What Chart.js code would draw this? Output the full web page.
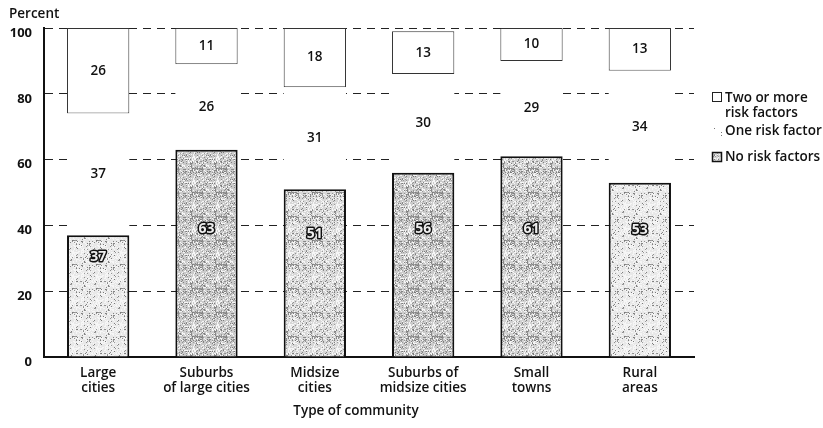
<!DOCTYPE html>
<html><head><meta charset="utf-8">
<script src="https://cdn.jsdelivr.net/npm/chart.js@4/dist/chart.umd.min.js"></script>
<style>html,body{margin:0;padding:0;background:#fff}#wrap{width:823px;height:428px;position:relative}</style>
</head><body><div id="wrap"><canvas id="c" width="823" height="428"></canvas></div>
<script>
const categories = [["Large","cities"],["Suburbs","of large cities"],["Midsize","cities"],["Suburbs of","midsize cities"],["Small","towns"],["Rural","areas"]];
const noRisk = [37, 63, 51, 56, 61, 53];
const oneRisk = [37, 26, 31, 30, 29, 34];
const twoPlus = [26, 11, 18, 13, 10, 13];
const yTicks = [0, 20, 40, 60, 80, 100];
const seriesNames = ["No risk factors", "One risk factor", "Two or more risk factors"];
const shade = [0.0, 0.9, 0.5, 0.9, 0.7, 0.0];

const FONT = "'Open Sans', 'DejaVu Sans', sans-serif";

function makePattern(level){
  const N = 24;
  const cv = document.createElement('canvas'); cv.width = N; cv.height = N;
  const g = cv.getContext('2d');
  const base = Math.round(232 - level*32);
  g.fillStyle = `rgb(${base},${base},${base})`; g.fillRect(0,0,N,N);
  for(let i=0;i<N;i++) for(let j=0;j<N;j++){
    const h = ((i*73856093) ^ (j*19349663) ^ (i*j*83492791)) >>> 0;
    const r = (h % 97) / 97;
    if(r < 0.10 + level*0.14){ const c = 120 + (h % 40); g.fillStyle = `rgb(${c},${c},${c})`; g.fillRect(i,j,1,1); }
    else if(r > 0.80 - (1-level)*0.15){ g.fillStyle = '#f6f6f6'; g.fillRect(i,j,1,1); }
  }
  return g.createPattern(cv, 'repeat');
}
const patterns = shade.map(makePattern);
const legendPattern = makePattern(0.7);

const overlay = {
  id: 'overlay',
  afterDatasetsDraw(chart){
    const ctx = chart.ctx, ys = chart.scales.y;
    ctx.save();
    ctx.textAlign = 'center'; ctx.textBaseline = 'middle';
    const m0 = chart.getDatasetMeta(0);
    m0.data.forEach((el, i) => {
      const v = noRisk[i];
      const pos = Math.min(v/2 + 12, 39);
      const y = ys.getPixelForValue(pos);
      ctx.font = `bold 14px ${FONT}`;
      ctx.lineWidth = 3; ctx.strokeStyle = '#111'; ctx.lineJoin = 'round';
      ctx.strokeText(String(v), el.x, y);
      ctx.fillStyle = '#eeeeee';
      ctx.fillText(String(v), el.x, y);
    });
    [[1, oneRisk, noRisk.map(v=>v)], [2, twoPlus, noRisk.map((v,i)=>v+oneRisk[i])]].forEach(([d, vals, base]) => {
      const meta = chart.getDatasetMeta(d);
      meta.data.forEach((el, i) => {
        const mid = base[i] + vals[i]/2;
        ctx.font = `600 13.5px ${FONT}`;
        ctx.fillStyle = '#111';
        ctx.fillText(String(vals[i]), el.x, ys.getPixelForValue(mid));
      });
    });
    ctx.restore();
  },
  afterDraw(chart){
    const ctx = chart.ctx;
    ctx.save();
    ctx.fillStyle = '#111';
    ctx.font = `600 13.5px ${FONT}`;
    ctx.textAlign = 'left'; ctx.textBaseline = 'middle';
    ctx.fillText('Percent', 9, 14);
    ctx.textAlign = 'center';
    ctx.fillText('Type of community', 356, 411);
    ctx.textAlign = 'left';
    const lx = 712;
    ctx.fillStyle = '#fff'; ctx.strokeStyle = '#222'; ctx.lineWidth = 1;
    ctx.fillRect(lx+0.5, 92.5, 9, 9); ctx.strokeRect(lx+0.5, 92.5, 9, 9);
    ctx.fillStyle = '#111';
    ctx.fillText('Two or more', lx+13, 98);
    ctx.fillText('risk factors', lx+13, 113);
    ctx.fillText('One risk factor', lx+13, 131);
    ctx.fillStyle = '#777'; ctx.fillRect(lx+2, 128, 1, 1); ctx.fillRect(lx+9, 132, 1, 1); ctx.fillRect(lx+9, 135, 1, 1);
    ctx.fillStyle = legendPattern; ctx.fillRect(lx+0.5, 152.5, 9, 9);
    ctx.lineWidth = 1.5; ctx.strokeStyle = '#111'; ctx.strokeRect(lx+0.5, 152.5, 9, 9);
    ctx.fillStyle = '#111';
    ctx.fillText('No risk factors', lx+13, 157);
    ctx.restore();
  }
};

new Chart(document.getElementById('c'), {
  type: 'bar',
  data: {
    labels: categories,
    datasets: [
      { label: seriesNames[0], data: noRisk, backgroundColor: patterns, borderColor: '#111',
        borderWidth: {left: 2, right: 2, top: 2, bottom: 0}, borderSkipped: false },
      { label: seriesNames[1], data: oneRisk, backgroundColor: '#ffffff', borderWidth: 0 },
      { label: seriesNames[2], data: twoPlus, backgroundColor: '#ffffff', borderColor: '#333',
        borderWidth: 1, borderSkipped: false }
    ]
  },
  options: {
    responsive: false, animation: false,
    layout: { padding: { top: 28, right: 129, bottom: 0, left: 0 } },
    datasets: { bar: { categoryPercentage: 1, barPercentage: 0.575 } },
    plugins: { legend: { display: false }, tooltip: { enabled: false } },
    scales: {
      x: {
        stacked: true,
        grid: { display: false, drawTicks: false },
        border: { display: true, color: '#111', width: 2 },
        ticks: { color: '#111', font: { family: FONT, size: 13.5, weight: '600', lineHeight: 1.15 }, padding: 8, maxRotation: 0, autoSkip: false },
        afterFit(s){ s.height = 71; }
      },
      y: {
        stacked: true, min: 0, max: 100,
        afterBuildTicks(s){ s.ticks = yTicks.map(v => ({ value: v })); },
        grid: { drawTicks: false, color: c => c.tick && c.tick.value === 0 ? 'rgba(0,0,0,0)' : '#222', lineWidth: 1 },
        border: { display: true, color: '#111', width: 2, dash: [8, 6] },
        ticks: { color: '#111', font: { family: FONT, size: 13, weight: 'bold' }, padding: 12, labelOffset: 5 },
        afterFit(s){ s.width = 44; }
      }
    }
  },
  plugins: [overlay]
});
</script></body></html>
